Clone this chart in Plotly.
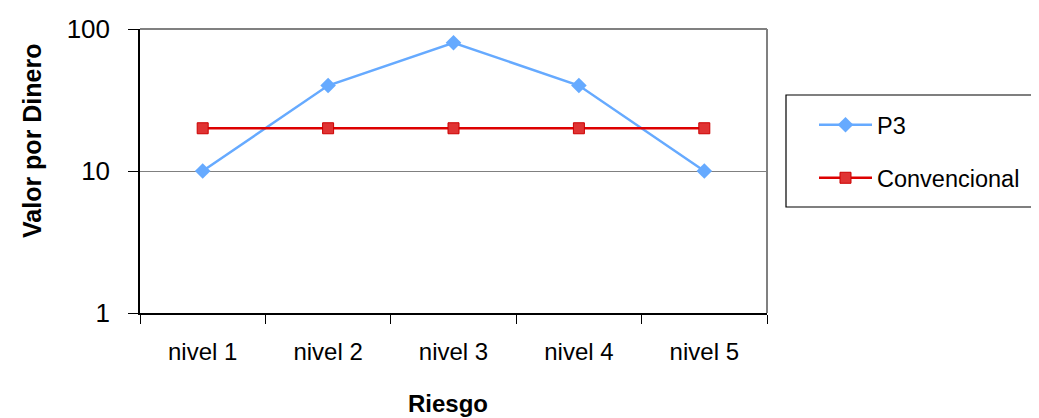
import plotly.graph_objects as go

categories = ["nivel 1", "nivel 2", "nivel 3", "nivel 4", "nivel 5"]
p3_values = [10, 40, 80, 40, 10]
conv_values = [20, 20, 20, 20, 20]
y_tickvals = [1, 10, 100]
y_ticktext = ["1", "10", "100"]
x_title = "Riesgo"
y_title = "Valor por Dinero"

OFF = 8  # default page body margin
W, H = 1039 - OFF, 418 - OFF
L, R, T, B = 140 - OFF, 767 - OFF, 29 - OFF, 313 - OFF

def px(x):
    return (x - OFF - L) / (R - L)

def py(y):
    return (B - (y - OFF)) / (B - T)

FONT = "Liberation Sans, Arial, sans-serif"

fig = go.Figure()
fig.add_trace(go.Scatter(
    x=categories, y=p3_values, name="P3", mode="lines+markers",
    line=dict(color="#66AAFF", width=2.5),
    marker=dict(symbol="diamond", size=12, color="#66AAFF"),
    legend="legend",
))
fig.add_trace(go.Scatter(
    x=categories, y=conv_values, name="Convencional", mode="lines+markers",
    line=dict(color="#DD0000", width=2.5),
    marker=dict(symbol="square", size=11, color="#E03333",
                line=dict(color="#CC0000", width=1)),
    legend="legend2",
))

fig.update_layout(
    width=W, height=H,
    margin=dict(l=L, r=W - R, t=T, b=H - B, pad=0, autoexpand=False),
    paper_bgcolor="white", plot_bgcolor="white",
    font=dict(family=FONT, color="black"),
    showlegend=True,
    legend=dict(x=px(814), y=py(125), xanchor="left", yanchor="middle",
                font=dict(size=23.5, family=FONT), itemwidth=53,
                bgcolor="rgba(0,0,0,0)", borderwidth=0),
    legend2=dict(x=px(814), y=py(178), xanchor="left", yanchor="middle",
                 font=dict(size=23.5, family=FONT), itemwidth=53,
                 bgcolor="rgba(0,0,0,0)", borderwidth=0),
    xaxis=dict(
        type="category", categoryorder="array", categoryarray=categories,
        range=[-0.5, 4.5], tickson="boundaries", ticks="outside", ticklen=9,
        tickcolor="black", tickwidth=1, showline=True, linecolor="black",
        linewidth=1.5, showgrid=False, zeroline=False, automargin=False,
        tickfont=dict(size=24, family=FONT), ticklabelstandoff=16,
    ),
    yaxis=dict(
        type="log", range=[0, 2], tickvals=y_tickvals, ticktext=y_ticktext,
        ticks="outside", ticklen=10, tickcolor="black", tickwidth=1,
        showline=True, linecolor="black", linewidth=1.5, automargin=False,
        showgrid=True, gridcolor="#808080", gridwidth=1, zeroline=False,
        tickfont=dict(size=26, family=FONT), ticklabelstandoff=13,
    ),
    annotations=[
        dict(text="<b>" + x_title + "</b>", xref="paper", yref="paper",
             x=px(448), y=py(403), xanchor="center", yanchor="middle",
             showarrow=False, font=dict(size=24, family=FONT)),
        dict(text="<b>" + y_title + "</b>", xref="paper", yref="paper",
             x=px(32), y=py(141), xanchor="center", yanchor="middle",
             textangle=-90, showarrow=False, font=dict(size=25, family=FONT)),
    ],
    shapes=[
        dict(type="line", xref="paper", yref="paper", x0=1, x1=1, y0=0, y1=1,
             line=dict(color="#808080", width=2)),
        dict(type="line", xref="paper", yref="paper", x0=0, x1=1, y0=1, y1=1,
             line=dict(color="#808080", width=2)),
        dict(type="rect", xref="paper", yref="paper",
             x0=px(786), x1=px(1045), y0=py(207), y1=py(95),
             line=dict(color="black", width=1.2), fillcolor="rgba(0,0,0,0)"),
    ],
)

fig.write_html("out.html")
